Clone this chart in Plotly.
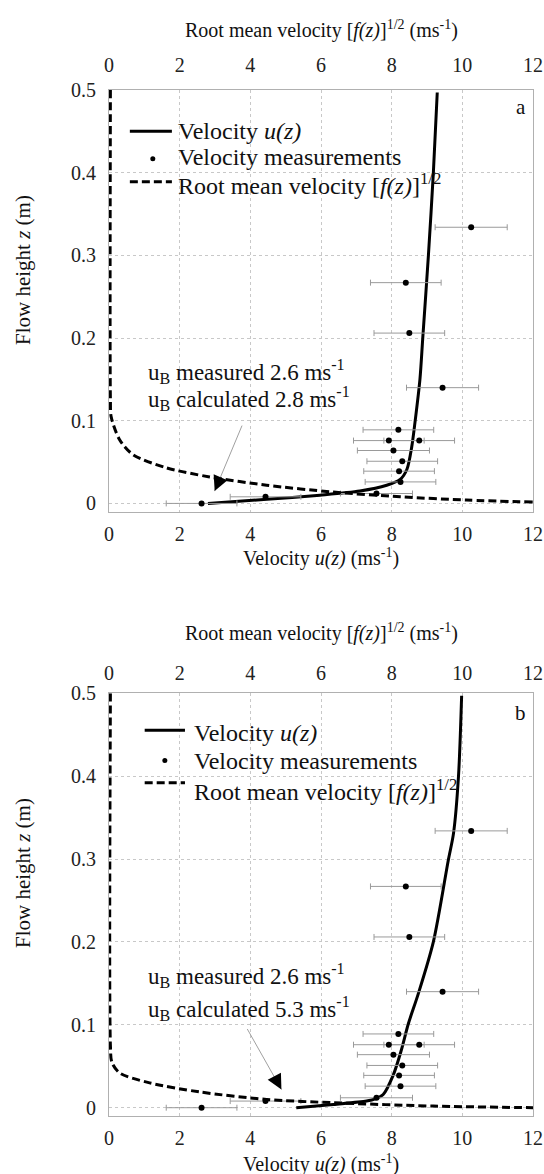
import plotly.graph_objects as go

# ---- data ----
meas_u = [2.62, 4.43, 7.57, 8.25, 8.21, 8.30, 8.05, 7.92, 8.78, 8.19, 9.44, 8.50, 8.40, 10.25]
meas_z = [0.000, 0.008, 0.012, 0.026, 0.039, 0.051, 0.064, 0.076, 0.076, 0.089, 0.140, 0.206, 0.267, 0.334]
meas_err = [1.0, 1.0, 1.02, 1.0, 1.0, 1.0, 1.02, 1.0, 1.0, 1.0, 1.02, 1.0, 1.0, 1.02]

ua_u = [2.80, 4.47, 5.97, 7.10, 7.86, 8.24, 8.43, 8.57, 8.66, 8.80, 8.88, 9.04, 9.18, 9.29]
ua_z = [0.000, 0.005, 0.010, 0.015, 0.022, 0.029, 0.041, 0.069, 0.098, 0.150, 0.200, 0.300, 0.400, 0.497]

fa_v = [0.04, 0.04, 0.06, 0.30, 0.68, 1.63, 2.85, 4.46, 6.35, 8.24, 10.12, 12.0]
fa_z = [0.500, 0.125, 0.105, 0.077, 0.059, 0.043, 0.032, 0.022, 0.0137, 0.008, 0.004, 0.0016]

ub_u = [5.30, 6.35, 7.29, 7.55, 7.76, 8.05, 8.27, 8.47, 8.75, 9.18, 9.60, 9.75, 9.89, 9.98]
ub_z = [0.000, 0.004, 0.008, 0.011, 0.016, 0.040, 0.069, 0.101, 0.137, 0.200, 0.298, 0.331, 0.399, 0.497]

fb_v = [0.04, 0.04, 0.08, 0.30, 1.15, 2.57, 4.46, 6.35, 9.18, 12.0]
fb_z = [0.500, 0.075, 0.055, 0.042, 0.030, 0.019, 0.010, 0.006, 0.002, 0.000]

x_ticks = [0, 2, 4, 6, 8, 10, 12]
y_ticks = [0, 0.1, 0.2, 0.3, 0.4, 0.5]
y_ticktext = ["0", "0.1", "0.2", "0.3", "0.4", "0.5"]

legend_names = ["Velocity <i>u(z)</i>", "Velocity measurements",
                "Root mean velocity [<i>f(z)</i>]<sup>1/2</sup>"]

FONT = "Liberation Serif, Times New Roman, serif"
BORDER = "#b0b0b0"
GRID = "#c8c8c8"

fig = go.Figure()

def add_panel(u_x, u_z, f_v, f_z, xa, xa_top, ya):
    fig.add_trace(go.Scatter(x=u_x, y=u_z, mode="lines", name=legend_names[0], showlegend=False,
                             line=dict(color="black", width=3, shape="spline", smoothing=0.8),
                             xaxis=xa, yaxis=ya))
    fig.add_trace(go.Scatter(x=meas_u, y=meas_z, mode="markers", name=legend_names[1], showlegend=False,
                             marker=dict(color="black", size=6),
                             error_x=dict(type="data", array=meas_err, color="#9a9a9a", thickness=1, width=3),
                             xaxis=xa, yaxis=ya))
    fig.add_trace(go.Scatter(x=f_v, y=f_z, mode="lines", name=legend_names[2], showlegend=False,
                             line=dict(color="black", width=3, dash="8px,4px", shape="spline", smoothing=0.8),
                             xaxis=xa_top, yaxis=ya))

add_panel(ua_u, ua_z, fa_v, fa_z, "x", "x2", "y")
add_panel(ub_u, ub_z, fb_v, fb_z, "x3", "x4", "y2")

xcommon = dict(range=[0, 12], tickvals=x_ticks, showline=True, linecolor=BORDER, linewidth=1,
               zeroline=False, tickfont=dict(family=FONT, size=20, color="#222"), ticks="",
               automargin=False)
ycommon = dict(range=[-0.01, 0.5], tickvals=y_ticks, ticktext=y_ticktext, showline=True, mirror=True,
               linecolor=BORDER, linewidth=1, zeroline=False, showgrid=True, gridcolor=GRID,
               griddash="dot", gridwidth=1, tickfont=dict(family=FONT, size=20, color="#222"),
               ticks="", ticklabelstandoff=8, automargin=False)

fig.update_layout(
    width=544, height=1174,
    margin=dict(l=109, r=11, t=90, b=58),
    paper_bgcolor="white", plot_bgcolor="white",
    font=dict(family=FONT, color="#111"),
    showlegend=False,
    xaxis=dict(**xcommon, anchor="y", side="bottom", mirror=True, showgrid=True, gridcolor=GRID,
               griddash="dot", ticklabelstandoff=4),
    xaxis2=dict(**xcommon, anchor="y", overlaying="x", side="top", showgrid=False, ticklabelstandoff=9),
    yaxis=dict(**ycommon, domain=[0.589, 1.0], anchor="x"),
    xaxis3=dict(**xcommon, anchor="y2", side="bottom", mirror=True, showgrid=True, gridcolor=GRID,
                griddash="dot", ticklabelstandoff=4),
    xaxis4=dict(**xcommon, anchor="y2", overlaying="x3", side="top", showgrid=False, ticklabelstandoff=4),
    yaxis2=dict(**ycommon, domain=[0.0, 0.412], anchor="x3"),
)

ann = []
shapes = []
tfont = dict(family=FONT, size=20, color="#111")
# axis titles
ann.append(dict(text="Root mean velocity [<i>f(z)</i>]<sup>1/2</sup> (ms<sup>-1</sup>)", xref="paper", yref="paper",
                x=0.5, y=(1116 - 30) / 1026, showarrow=False, font=tfont, xanchor="center", yanchor="middle"))
ann.append(dict(text="Velocity <i>u(z)</i> (ms<sup>-1</sup>)", xref="paper", yref="paper",
                x=0.5, y=(1116 - 557) / 1026, showarrow=False, font=tfont, xanchor="center", yanchor="middle"))
ann.append(dict(text="Root mean velocity [<i>f(z)</i>]<sup>1/2</sup> (ms<sup>-1</sup>)", xref="paper", yref="paper",
                x=0.5, y=(1116 - 633) / 1026, showarrow=False, font=tfont, xanchor="center", yanchor="middle"))
ann.append(dict(text="Velocity <i>u(z)</i> (ms<sup>-1</sup>)", xref="paper", yref="paper",
                x=0.5, y=(1116 - 1163) / 1026, showarrow=False, font=tfont, xanchor="center", yanchor="middle"))
for yc in [270, 873]:
    ann.append(dict(text="Flow height <i>z</i> (m)", xref="paper", yref="paper", textangle=-90,
                    x=(23 - 109) / 424, y=(1116 - yc) / 1026, showarrow=False,
                    font=dict(family=FONT, size=21, color="#111"), xanchor="center", yanchor="middle"))

afont = dict(family=FONT, size=23, color="#111")
lfont = dict(family=FONT, size=24, color="#111")

# panel letters
ann.append(dict(text="a", xref="x", yref="y", x=11.65, y=0.480, showarrow=False, font=dict(family=FONT, size=21, color="#111")))
ann.append(dict(text="b", xref="x3", yref="y2", x=11.65, y=0.476, showarrow=False, font=dict(family=FONT, size=21, color="#111")))

# hand-placed legends (key samples + labels), one per panel
def add_legend(xr, yr, x0, x1, xdot, xtext, y_rows, y_keys):
    shapes.append(dict(type="line", xref=xr, yref=yr, x0=x0, x1=x1, y0=y_keys[0], y1=y_keys[0],
                       line=dict(color="black", width=3)))
    fig.add_trace(go.Scatter(x=[xdot], y=[y_keys[1]], mode="markers", marker=dict(color="black", size=5),
                             showlegend=False, hoverinfo="skip", xaxis=xr, yaxis=yr))
    shapes.append(dict(type="line", xref=xr, yref=yr, x0=x0, x1=x1, y0=y_keys[2], y1=y_keys[2],
                       line=dict(color="black", width=3, dash="8px,4px")))
    for name, yy in zip(legend_names, y_rows):
        ann.append(dict(text=name, xref=xr, yref=yr, x=xtext, y=yy, xanchor="left", yanchor="middle",
                        showarrow=False, font=lfont))

add_legend("x", "y", 0.59, 1.78, 1.24, 1.91, [0.450, 0.419, 0.386], [0.450, 0.417, 0.389])
add_legend("x3", "y2", 1.01, 2.15, 1.58, 2.34, [0.4525, 0.4186, 0.383], [0.4555, 0.419, 0.392])

# u_B notes
ann.append(dict(text="u<sub>B</sub> measured 2.6 ms<sup>-1</sup>", xref="x", yref="y", x=1.06, y=0.160,
                xanchor="left", yanchor="middle", showarrow=False, font=afont))
ann.append(dict(text="u<sub>B</sub> calculated 2.8 ms<sup>-1</sup>", xref="x", yref="y", x=1.06, y=0.127,
                xanchor="left", yanchor="middle", showarrow=False, font=afont))
ann.append(dict(text="u<sub>B</sub> measured 2.6 ms<sup>-1</sup>", xref="x3", yref="y2", x=1.06, y=0.159,
                xanchor="left", yanchor="middle", showarrow=False, font=afont))
ann.append(dict(text="u<sub>B</sub> calculated 5.3 ms<sup>-1</sup>", xref="x3", yref="y2", x=1.06, y=0.120,
                xanchor="left", yanchor="middle", showarrow=False, font=afont))

# arrows: grey shaft + black head
ann.append(dict(text="", xref="x", yref="y", x=2.99, y=0.0149, ax=28, ay=-67, showarrow=True,
                arrowhead=0, arrowwidth=1, arrowcolor="#a0a0a0"))
ann.append(dict(text="", xref="x", yref="y", x=2.99, y=0.0149, ax=3, ay=-7, showarrow=True,
                arrowhead=2, arrowsize=2, arrowwidth=1.5, arrowcolor="black"))
ann.append(dict(text="", xref="x3", yref="y2", x=4.88, y=0.022, ax=-35, ay=-62, showarrow=True,
                arrowhead=0, arrowwidth=1, arrowcolor="#a0a0a0"))
ann.append(dict(text="", xref="x3", yref="y2", x=4.88, y=0.022, ax=-3.5, ay=-6.5, showarrow=True,
                arrowhead=2, arrowsize=2, arrowwidth=1.5, arrowcolor="black"))

fig.update_layout(annotations=ann, shapes=shapes)

fig.write_html("out.html", config={"displayModeBar": False},
               post_script="document.body.style.margin='0';document.body.style.overflow='hidden';")
